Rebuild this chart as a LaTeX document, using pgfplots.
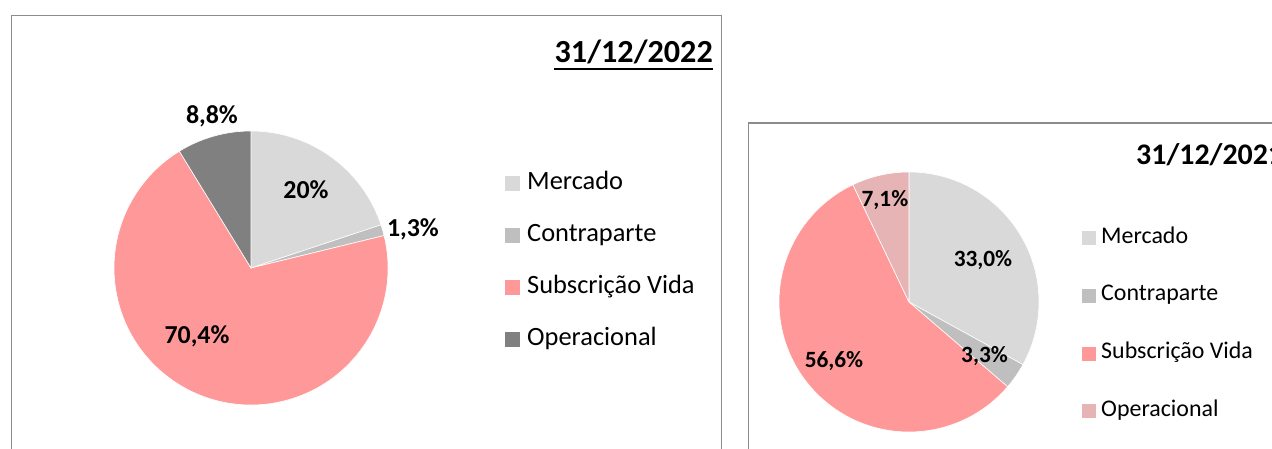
\documentclass[border=0pt]{standalone}
\usepackage{pgfplots}
\pgfplotsset{compat=1.18}
\usepackage{fontspec}
\setmainfont{Carlito}
\definecolor{cMerc}{HTML}{D9D9D9}
\definecolor{cCont}{HTML}{BFBFBF}
\definecolor{cSub}{HTML}{FF9999}
\definecolor{cOpA}{HTML}{808080}
\definecolor{cOpB}{HTML}{E6B4B4}
\definecolor{cBox}{HTML}{8C8C8C}
% #1 radius (bp), #2 cumulative share before slice, #3 share, #4 total, #5 colour
\newcommand{\pieslice}[5]{%
  \pgfmathsetmacro{\aS}{90-(#2)/(#4)*360}%
  \pgfmathsetmacro{\aE}{90-((#2)+(#3))/(#4)*360}%
  \edef\tmpslice{\noexpand\fill[#5, draw=white, line width=0.6bp] (axis cs:0,0) -- ++(\aS:#1bp) arc[start angle=\aS, end angle=\aE, radius=#1bp] -- cycle;}%
  \tmpslice}
\begin{document}
\begin{tikzpicture}[x=1bp,y=1bp]
\useasboundingbox (0,0) rectangle (1272,449);
\coordinate (cL) at (251,181);
\coordinate (cR) at (909,147);
\begin{scope}
\clip (0,0) rectangle (1272,449);
\fill[white] (0,0) rectangle (1272,449);
\draw[cBox, line width=1.5bp] (11.5,-20) -- (11.5,433.5) -- (721.5,433.5) -- (721.5,-20);
\draw[cBox, line width=1.5bp] (748.5,-20) -- (748.5,326) -- (1300,326);

% ---- 31/12/2022 ----
\begin{axis}[at={(cL)}, anchor=center, scale only axis,
  width=274bp, height=274bp, xmin=-1, xmax=1, ymin=-1, ymax=1,
  hide axis, clip=false,
  legend image code/.code={\fill (0bp,-7.5bp) rectangle (15bp,7.5bp); \path (22bp,0bp);},
  legend cell align=left,
  legend style={at={(axis cs:1.854,0.700)}, anchor=north west, draw=none, fill=none,
    inner sep=0pt, font=\fontsize{26.5}{30}\selectfont,
    nodes={inner sep=0pt, text height=17bp, text depth=5bp}, row sep=30bp}]
\pieslice{137}{0}{20}{100.5}{cMerc}
\pieslice{137}{20}{1.3}{100.5}{cCont}
\pieslice{137}{21.3}{70.4}{100.5}{cSub}
\pieslice{137}{91.7}{8.8}{100.5}{cOpA}
\addlegendimage{fill=cMerc, draw=none}
\addlegendentry{Mercado}
\addlegendimage{fill=cCont, draw=none}
\addlegendentry{Contraparte}
\addlegendimage{fill=cSub, draw=none}
\addlegendentry{Subscrição Vida}
\addlegendimage{fill=cOpA, draw=none}
\addlegendentry{Operacional}
\begin{scope}[every node/.style={font=\bfseries\fontsize{26}{30}\selectfont}]
\node at (axis cs:0.401,0.569) {20\%};
\node at (axis cs:1.182,0.285) {1,3\%};
\node at (axis cs:-0.394,-0.496) {70,4\%};
\node at (axis cs:-0.285,1.109) {8,8\%};
\end{scope}
\end{axis}

% ---- 31/12/2021 ----
\begin{axis}[at={(cR)}, anchor=center, scale only axis,
  width=260bp, height=260bp, xmin=-1, xmax=1, ymin=-1, ymax=1,
  hide axis, clip=false,
  legend image code/.code={\fill (0bp,-7bp) rectangle (14bp,7bp); \path (19bp,0bp);},
  legend cell align=left,
  legend style={at={(axis cs:1.331,0.569)}, anchor=north west, draw=none, fill=none,
    inner sep=0pt, font=\fontsize{24}{28}\selectfont,
    nodes={inner sep=0pt, text height=15bp, text depth=5bp}, row sep=37.7bp}]
\pieslice{130}{0}{33.0}{100}{cMerc}
\pieslice{130}{33.0}{3.3}{100}{cCont}
\pieslice{130}{36.3}{56.6}{100}{cSub}
\pieslice{130}{92.9}{7.1}{100}{cOpB}
\addlegendimage{fill=cMerc, draw=none}
\addlegendentry{Mercado}
\addlegendimage{fill=cCont, draw=none}
\addlegendentry{Contraparte}
\addlegendimage{fill=cSub, draw=none}
\addlegendentry{Subscrição Vida}
\addlegendimage{fill=cOpB, draw=none}
\addlegendentry{Operacional}
\begin{scope}[every node/.style={font=\bfseries\fontsize{23.4}{28}\selectfont}]
\node at (axis cs:0.569,0.323) {33,0\%};
\node at (axis cs:0.581,-0.415) {3,3\%};
\node at (axis cs:-0.577,-0.451) {56,6\%};
\node at (axis cs:-0.185,0.785) {7,1\%};
\end{scope}
\end{axis}

% titles
\node[anchor=base east, inner sep=0pt, font=\bfseries\fontsize{32.3}{38}\selectfont] (t1) at (713,386) {31/12/2022};
\draw[black, line width=2bp] ([yshift=-6.5bp]t1.base west) -- ([yshift=-6.5bp]t1.base east);
\node[anchor=base west, inner sep=0pt, font=\bfseries\fontsize{30}{36}\selectfont] at (1136,284.5) {31/12/2021};
\end{scope}
\end{tikzpicture}
\end{document}
